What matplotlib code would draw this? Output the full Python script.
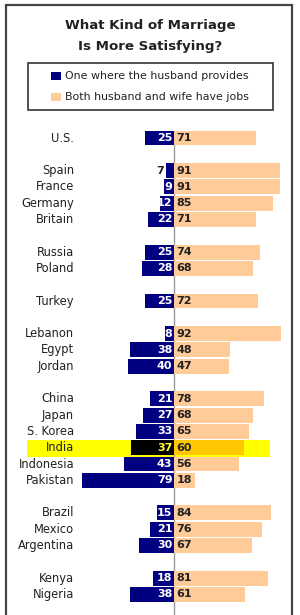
import matplotlib
matplotlib.use("Agg")
import matplotlib.pyplot as plt
from matplotlib.patches import Rectangle

# data
countries = ["U.S.",
             "Spain", "France", "Germany", "Britain",
             "Russia", "Poland",
             "Turkey",
             "Lebanon", "Egypt", "Jordan",
             "China", "Japan", "S. Korea", "India", "Indonesia", "Pakistan",
             "Brazil", "Mexico", "Argentina",
             "Kenya", "Nigeria"]
husband_provides = [25, 7, 9, 12, 22, 25, 28, 25, 8, 38, 40,
                    21, 27, 33, 37, 43, 79, 15, 21, 30, 18, 38]
both_have_jobs = [71, 91, 91, 85, 71, 74, 68, 72, 92, 48, 47,
                  78, 68, 65, 60, 56, 18, 84, 76, 67, 81, 61]
group_sizes = [1, 4, 2, 1, 3, 6, 3, 2]
highlight = "India"
legend_labels = ["One where the husband provides", "Both husband and wife have jobs"]
title = "What Kind of Marriage\nIs More Satisfying?"

NAVY = "#000080"
PEACH = "#FFCC99"
TXT = "#222222"

# slot positions, one empty slot between groups
slots = []
pos = 0
for n in group_sizes:
    for i in range(n):
        slots.append(pos)
        pos += 1
    pos += 1

PX_UNIT = 1.16      # pixels per percentage point
ZERO_PX = 174
ROW_PX = 16.3
FIRST_ROW_PX = 138

fig = plt.figure(figsize=(3, 6.15), dpi=100)
fig.patch.set_facecolor("white")

# pixel overlay for frame, title, legend
deco = fig.add_axes([0, 0, 1, 1])
deco.set_xlim(0, 300)
deco.set_ylim(615, 0)
deco.axis("off")

# bars axis
ax = fig.add_axes([0, 0, 1, 1])
ax.set_xlim(-ZERO_PX / PX_UNIT, (300 - ZERO_PX) / PX_UNIT)
ax.set_ylim((615 - FIRST_ROW_PX) / ROW_PX, -FIRST_ROW_PX / ROW_PX)
ax.axis("off")
ax.patch.set_alpha(0)

# frame (top, left, right)
deco.plot([6, 6, 292, 292], [615, 5, 5, 615], color="#444444", lw=1.6,
          solid_joinstyle="miter")

deco.text(150, 36, title, ha="center", va="center", fontsize=9.6,
          fontweight="bold", color=TXT, linespacing=1.75)

deco.add_patch(Rectangle((28, 63), 245, 47, fill=False, edgecolor="#333333", lw=1.2))
for k, (lab, col) in enumerate(zip(legend_labels, [NAVY, PEACH])):
    y = 76 + 21 * k
    deco.add_patch(Rectangle((51, y - 4), 10, 8, facecolor=col, edgecolor="none"))
    deco.text(65, y, lab, ha="left", va="center", fontsize=7.9, color=TXT)

# center line
ax.plot([0, 0], [slots[0] - 0.46, 40], color="#999999", lw=1, zorder=1)

label_x = (74 - ZERO_PX) / PX_UNIT
h = 0.92
for c, a, b, s in zip(countries, husband_provides, both_have_jobs, slots):
    hl = c == highlight
    left_col = "black" if hl else NAVY
    right_col = "#FFC800" if hl else PEACH
    if hl:
        ax.axhspan(s - 0.5, s + 0.55, xmin=27 / 300, xmax=270 / 300,
                   color="#FFFF00", zorder=0, lw=0)
    ax.barh(s, -a, height=h, color=left_col, zorder=2)
    ax.barh(s, b, height=h, color=right_col, zorder=2)
    ax.text(label_x, s, c, ha="right", va="center", fontsize=8.3, color=TXT)
    if a >= 8:
        ax.text(-1.4, s, str(a), ha="right", va="center", fontsize=8,
                fontweight="bold", color="#FFFF33" if hl else "white", zorder=3)
    else:
        ax.text(-a - 1.4, s, str(a), ha="right", va="center", fontsize=8,
                fontweight="bold", color=TXT, zorder=3)
    ax.text(2.2, s, str(b), ha="left", va="center", fontsize=8,
            fontweight="bold", color=TXT, zorder=3)

fig.savefig("out.png", dpi=100)
